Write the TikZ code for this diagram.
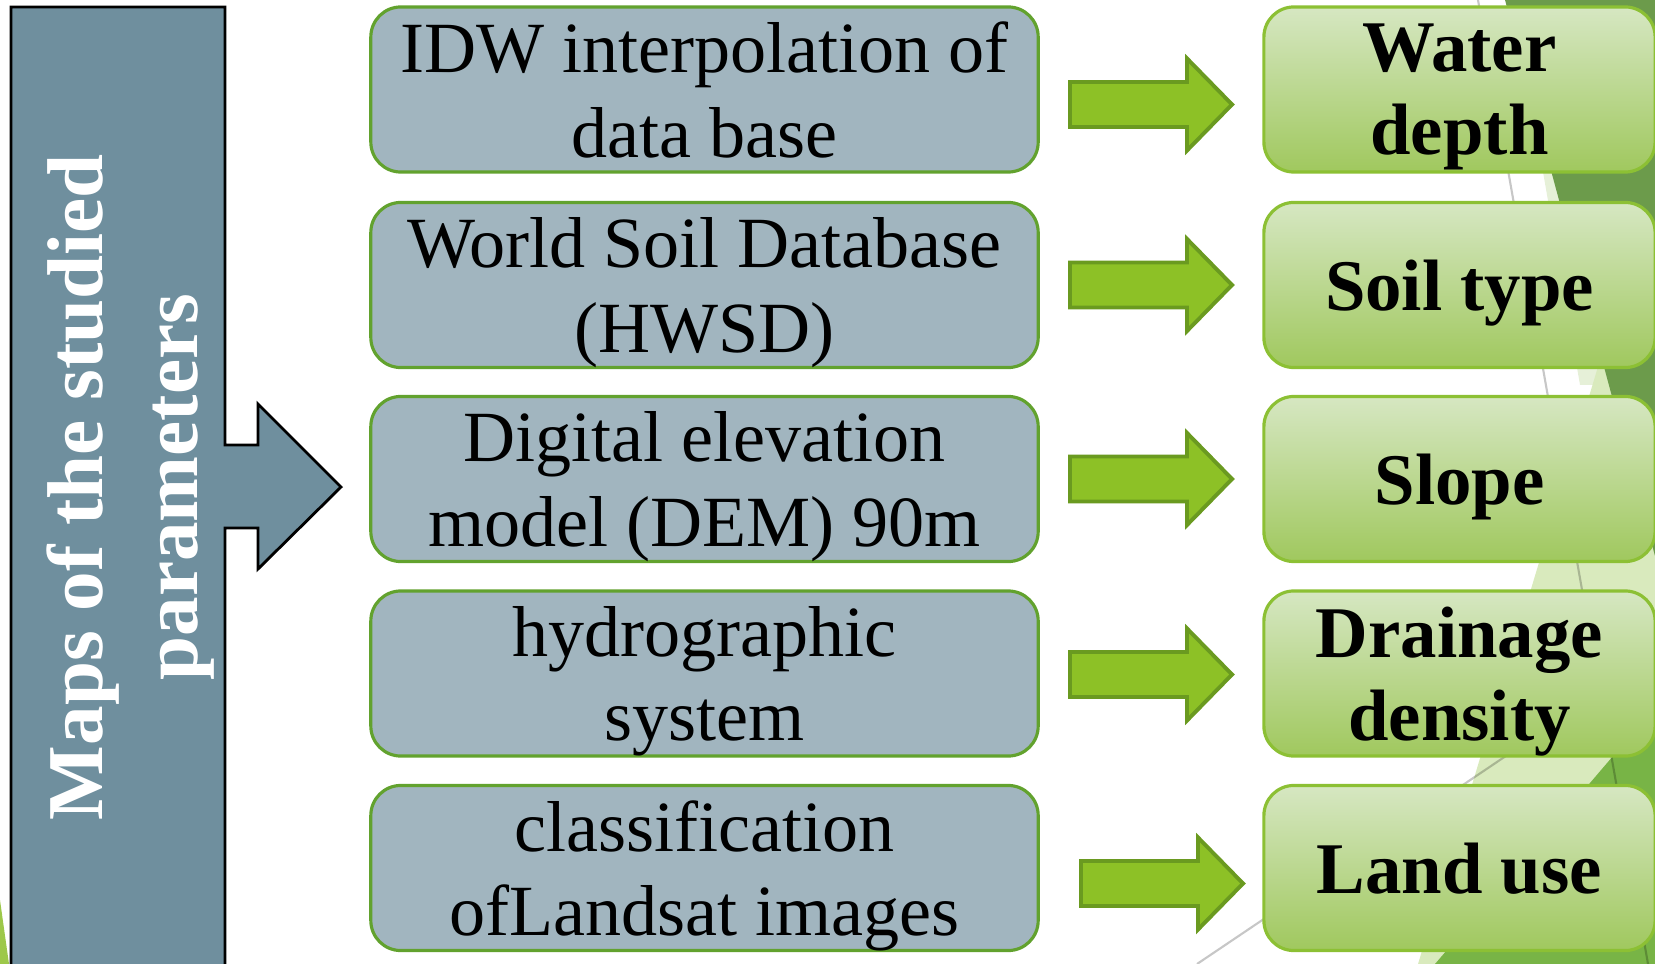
\documentclass[tikz,border=0pt]{standalone}
\usepackage{fontspec}
\setmainfont{Liberation Serif}
\usetikzlibrary{calc}

\definecolor{slate}{HTML}{6F8F9E}
\definecolor{srcfill}{HTML}{A1B5BF}
\definecolor{srcline}{HTML}{62A22E}
\definecolor{resline}{HTML}{8CC034}
\definecolor{restop}{HTML}{D6E7C2}
\definecolor{resbot}{HTML}{A0C85E}
\definecolor{arrfill}{HTML}{8DC126}
\definecolor{arrline}{HTML}{6A9A20}
\definecolor{bgdark}{HTML}{6C9B4B}
\definecolor{bgpale}{HTML}{E6F0D8}
\definecolor{bglight}{HTML}{D9EABD}
\definecolor{bgmid}{HTML}{78B446}
\definecolor{bgleaf}{HTML}{9DC84A}

\tikzset{
  srcbox/.style={draw=srcline, line width=0.9pt, fill=srcfill, rounded corners=0.3cm,
    minimum width=6.67cm, minimum height=1.65cm, align=center, inner sep=0pt,
    text depth=0pt, font=\fontsize{20.5}{24}\selectfont},
  resbox/.style={draw=resline, line width=0.9pt, top color=restop, bottom color=resbot,
    rounded corners=0.3cm, minimum width=3.91cm, minimum height=1.65cm, align=center,
    inner sep=0pt, text depth=0pt, font=\bfseries\fontsize{20.7}{23.6}\selectfont},
  garrow/.style={draw=arrline, line width=1.1pt, fill=arrfill, line join=miter},
  blockarrow/.pic={\path[garrow] (-81,-22.5) -- (36,-22.5) -- (36,-46) -- (81,0)
    -- (36,46) -- (36,22.5) -- (-81,22.5) -- cycle;},
  bgline/.style={black, opacity=0.22, line width=0.6pt}
}

\begin{document}
\begin{tikzpicture}[x=0.01cm, y=-0.01cm]
\useasboundingbox (0,0) rectangle (1655,964);

% theme decoration: facets on the right edge and a sliver at bottom left
\begin{scope}
  \clip (0,0) rectangle (1655,964);
  \fill[bgpale] (1543,172) -- (1580,385) -- (1655,385) -- (1655,172) -- cycle;
  \fill[bglight] (1600,360) -- (1655,360) -- (1655,964) -- (1418,964) -- cycle;
  \fill[bgmid] (1655,707) -- (1655,964) -- (1435,964) -- cycle;
  \fill[bgdark] (1505,0) -- (1655,0) -- (1655,556) -- cycle;
  \draw[bgline] (1478,0) -- (1648,964);
  \draw[bgline] (1540,733) -- (1197,964);
  \fill[bgleaf] (0,900) -- (0,964) -- (9,964) -- cycle;
\end{scope}

% header block with its arrow
\begin{scope}
  \clip (0,0) rectangle (1655,964);
  \draw[fill=slate, line width=0.8pt, line join=miter]
    (11,7) -- (225,7) -- (225,445) -- (258,445) -- (258,404) -- (341,487)
    -- (258,569) -- (258,528) -- (225,528) -- (225,990) -- (11,990) -- cycle;
\end{scope}
\node[rotate=90, align=center, text=white, inner sep=0pt,
  font=\bfseries\fontsize{22.5}{27}\selectfont] (maps) at (131,487)
  {Maps of the studied\\parameters};

% data sources
\node[srcbox] (s1) at (704.5,89.5) {IDW interpolation of\\data base};
\node[srcbox] (s2) at (704.5,285) {World Soil Database\\(HWSD)};
\node[srcbox] (s3) at (704.5,479) {Digital elevation\\model (DEM) 90m};
\node[srcbox] (s4) at (704.5,673.5) {hydrographic\\system};
\node[srcbox] (s5) at (704.5,868) {classification\\ofLandsat images};

% derived parameters
\node[resbox] (r1) at (1459.5,89.5) {Water\\depth};
\node[resbox] (r2) at (1459.5,285) {Soil type};
\node[resbox] (r3) at (1459.5,479) {Slope};
\node[resbox] (r4) at (1459.5,673.5) {Drainage\\density};
\node[resbox] (r5) at (1459.5,868) {Land use};

% block arrows from each source to its parameter
\path ($(s1.east)!0.5!(r1.west)$) ++(0,15) pic {blockarrow};
\path ($(s2.east)!0.5!(r2.west)$) pic {blockarrow};
\path ($(s3.east)!0.5!(r3.west)$) pic {blockarrow};
\path ($(s4.east)!0.5!(r4.west)$) ++(0,1) pic {blockarrow};
\path ($(s5.east)!0.5!(r5.west)$) ++(11,15.5) pic {blockarrow};
\end{tikzpicture}
\end{document}
